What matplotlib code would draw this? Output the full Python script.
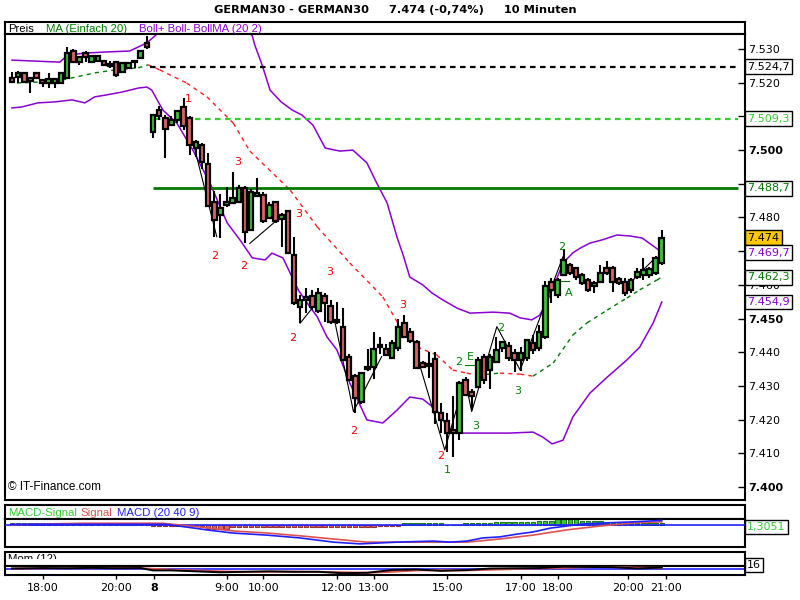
import matplotlib
matplotlib.use("Agg")
import matplotlib.pyplot as plt
import matplotlib.transforms as mtransforms
from matplotlib.patches import Rectangle

plt.rcParams['font.family'] = ['DejaVu Sans']
plt.rcParams['font.size'] = 8

# 10 minute candles, GERMAN30 (day 7 evening + day 8)
opens = [7521.5, 7521.6, 7522.8, 7520.5, 7523.0, 7520.8, 7520.0, 7520.0, 7519.8, 7521.3,
         7529.5, 7526.2, 7528.7, 7526.2, 7526.5, 7526.5, 7525.5, 7526.2, 7523.3, 7524.3,
         7526.0, 7527.2, 7531.7,
         7505.4, 7512.0, 7509.5, 7507.5, 7508.9, 7512.8, 7509.5, 7500.5, 7501.5, 7495.9,
         7484.7, 7480.7, 7483.7, 7484.4, 7484.7, 7488.8, 7476.3, 7486.4, 7486.7, 7479.8,
         7484.5, 7479.5, 7481.8, 7468.9, 7453.5, 7456.5, 7456.7, 7452.3, 7456.7, 7453.7,
         7449.5, 7447.6, 7438.7, 7432.8, 7425.3, 7435.0, 7435.5, 7441.5, 7440.9, 7438.2,
         7441.2, 7448.8, 7446.1, 7442.9, 7436.8, 7436.0, 7437.9, 7421.9, 7419.7, 7417.0,
         7415.9, 7431.8, 7428.3, 7429.8, 7438.7, 7434.7, 7437.2, 7441.2, 7441.7, 7439.7,
         7437.7, 7438.2, 7442.7, 7441.2, 7444.5, 7460.9, 7457.0, 7462.9, 7465.9, 7464.9,
         7460.5, 7461.4, 7459.7, 7460.9, 7464.9, 7464.9, 7461.7, 7460.9, 7458.5, 7462.4,
         7462.9, 7463.0, 7463.4, 7466.4]
highs = [7523.3, 7523.5, 7523.0, 7521.5, 7523.2, 7521.0, 7522.9, 7521.5, 7523.0, 7530.5,
         7530.0, 7527.8, 7529.5, 7528.3, 7528.3, 7526.8, 7526.5, 7526.5, 7526.2, 7526.0,
         7526.8, 7529.7, 7533.9,
         7510.5, 7513.0, 7510.5, 7510.0, 7512.0, 7515.6, 7510.0, 7503.0, 7502.0, 7499.0,
         7488.0, 7487.0, 7489.0, 7493.6, 7489.5, 7489.2, 7488.5, 7491.7, 7487.5, 7484.5,
         7485.0, 7481.2, 7482.3, 7474.3, 7457.0, 7459.0, 7458.5, 7459.0, 7457.5, 7455.5,
         7455.0, 7453.0, 7439.5, 7433.5, 7434.0, 7441.0, 7446.0, 7444.5, 7442.5, 7443.5,
         7450.0, 7451.0, 7447.2, 7443.5, 7437.5, 7440.2, 7440.2, 7425.0, 7422.0, 7427.0,
         7431.5, 7432.5, 7429.0, 7438.5, 7439.5, 7439.5, 7444.5, 7443.3, 7443.0, 7441.0,
         7441.5, 7444.0, 7445.0, 7448.0, 7461.0, 7462.0, 7462.0, 7470.7, 7466.5, 7465.3,
         7463.5, 7462.0, 7461.0, 7466.0, 7467.0, 7465.5, 7462.2, 7462.0, 7462.0, 7465.0,
         7468.0, 7465.4, 7468.5, 7476.3]
lows = [7519.8, 7520.0, 7519.8, 7517.0, 7521.0, 7518.6, 7518.4, 7518.4, 7519.5, 7521.0,
        7526.0, 7525.3, 7526.2, 7526.0, 7526.2, 7525.3, 7524.3, 7521.8, 7523.0, 7524.0,
        7524.5, 7527.0, 7530.0,
        7503.5, 7509.0, 7497.6, 7507.0, 7508.0, 7506.0, 7498.5, 7498.0, 7494.5, 7483.0,
        7474.3, 7474.0, 7483.0, 7484.0, 7484.5, 7472.3, 7476.0, 7486.0, 7478.5, 7479.5,
        7478.5, 7471.3, 7469.2, 7454.0, 7448.7, 7451.5, 7452.5, 7451.5, 7449.0, 7448.5,
        7448.5, 7437.3, 7431.5, 7422.0, 7424.5, 7434.5, 7432.0, 7439.5, 7438.8, 7438.0,
        7440.5, 7444.3, 7442.8, 7435.0, 7435.3, 7432.4, 7418.8, 7416.0, 7410.5, 7409.0,
        7414.0, 7427.0, 7423.0, 7429.5, 7430.5, 7429.0, 7436.8, 7440.0, 7437.5, 7434.0,
        7434.5, 7437.5, 7439.5, 7440.5, 7443.8, 7454.6, 7456.0, 7462.5, 7463.0, 7461.5,
        7460.0, 7457.8, 7457.5, 7460.5, 7463.0, 7458.0, 7460.0, 7456.8, 7457.5, 7461.8,
        7461.5, 7462.0, 7463.0, 7466.0]
closes = [7520.3, 7522.8, 7520.3, 7521.5, 7521.3, 7520.0, 7521.0, 7521.0, 7522.8, 7528.7,
          7526.2, 7527.5, 7527.5, 7528.0, 7528.0, 7525.3, 7525.0, 7522.3, 7525.8, 7525.8,
          7526.2, 7529.5, 7530.5,
          7510.4, 7510.0, 7506.3, 7509.0, 7511.6, 7507.2, 7501.5, 7502.5, 7496.6, 7483.4,
          7479.3, 7482.8, 7484.7, 7485.8, 7488.8, 7475.8, 7487.7, 7487.4, 7478.8, 7483.7,
          7478.8, 7480.7, 7469.4, 7454.5, 7455.5, 7455.5, 7453.4, 7457.7, 7454.5, 7449.0,
          7448.9, 7437.7, 7431.8, 7426.4, 7433.8, 7435.5, 7440.9, 7442.0, 7439.2, 7442.7,
          7447.6, 7444.6, 7443.2, 7435.3, 7435.6, 7436.2, 7422.4, 7419.9, 7415.9, 7416.0,
          7430.8, 7427.3, 7426.9, 7437.7, 7431.8, 7438.7, 7440.7, 7442.9, 7438.2, 7437.7,
          7439.9, 7443.6, 7440.7, 7446.1, 7459.8, 7458.5, 7461.4, 7467.4, 7463.4, 7462.4,
          7462.9, 7458.5, 7460.6, 7463.6, 7463.4, 7460.9, 7460.5, 7457.5, 7461.4, 7463.9,
          7464.4, 7464.6, 7467.9, 7474.0]

# Bollinger (20, 2) and MA 20 (candle index, price)
upper_idx = [0, 7.8, 9.1, 12.1, 15.2, 19.2, 22.0, 23.7, 25.0, 29.0, 32.3, 35.6, 38.0, 39.2,
             39.6, 40.8, 42.1, 43.9, 45.7, 47.3, 49.1, 51.1, 53.5, 55.6, 57.9, 59.5, 61.2,
             62.8, 63.8, 64.9, 67.0, 68.5, 70.3, 72.6, 74.7, 78.5, 81.2, 82.9, 84.8, 86.1,
             87.8, 89.9, 91.5, 92.7, 94.3, 96.2, 98.7, 100.8, 102.8, 104.4, 106.0]
upper_val = [7526.7, 7526.1, 7528.2, 7528.8, 7529.1, 7529.4, 7531.8, 7534.5, 7537.1, 7540.1,
             7541.0, 7538.6, 7536.2, 7533.9, 7531.2, 7525.3, 7517.8, 7514.3, 7511.9, 7510.4,
             7507.4, 7500.6, 7499.7, 7500.0, 7496.2, 7490.2, 7484.3, 7474.2, 7468.9, 7462.3,
             7460.0, 7457.6, 7455.5, 7453.1, 7451.6, 7451.9, 7451.6, 7450.2, 7449.6, 7451.0,
             7457.0, 7466.5, 7469.5, 7470.9, 7472.4, 7473.3, 7474.8, 7474.5, 7473.9, 7471.8,
             7469.7]
lower_idx = [0, 1.6, 4.2, 7.0, 9.8, 11.9, 13.5, 15.2, 17.9, 20.6, 22.0, 22.8, 24.6, 26.9,
             29.5, 32.3, 35.1, 37.2, 39.2, 41.3, 42.4, 44.2, 46.7, 47.8, 49.8, 51.4, 53.0,
             55.1, 57.9, 60.5, 62.8, 64.9, 67.0, 69.3, 71.0, 73.1, 76.8, 81.2, 85.0, 86.6,
             88.1, 89.9, 91.5, 94.3, 97.1, 100.3, 102.4, 104.6, 106.0]
lower_val = [7512.5, 7512.8, 7514.0, 7514.3, 7514.9, 7514.0, 7515.8, 7516.3, 7517.2, 7518.4,
             7518.7, 7517.8, 7511.9, 7508.0, 7500.0, 7490.2, 7478.4, 7473.3, 7468.0, 7467.4,
             7469.4, 7468.0, 7458.5, 7455.5, 7450.5, 7444.5, 7440.7, 7430.9, 7419.9, 7419.0,
             7422.8, 7426.7, 7426.1, 7422.8, 7417.8, 7416.0, 7416.0, 7416.0, 7416.3, 7414.8,
             7412.8, 7413.9, 7420.8, 7427.9, 7432.6, 7437.7, 7441.5, 7448.7, 7454.9]
ma_idx = [0.8, 4.6, 5.9, 8.2, 13.5, 16.8, 20.6, 22.2, 24.1, 28.5, 31.8, 36.1, 38.8, 45.4,
          49.8, 55.1, 60.5, 63.3, 64.9, 66.1, 69.3, 71.9, 74.2, 75.9, 79.6, 82.9, 85.0, 88.3,
          91.5, 93.8, 97.1, 100.3, 102.4, 105.2, 106.0]
ma_val = [7519.9, 7520.2, 7520.1, 7520.8, 7522.9, 7523.8, 7524.4, 7525.3, 7523.8, 7519.9,
          7515.8, 7508.0, 7499.7, 7488.1, 7477.2, 7466.5, 7456.4, 7447.5, 7445.7, 7441.5,
          7439.2, 7434.7, 7433.8, 7433.2, 7433.8, 7433.5, 7432.9, 7436.8, 7445.1, 7448.7,
          7452.5, 7456.1, 7458.5, 7461.4, 7462.3]

# horizontal levels
level_val = [7524.7, 7509.3, 7488.7]
level_start = [22.5, 23.3, 23.0]

# wave count labels
wave_text = ['1', '3', '2', '2', '3', '3', '2', '3', '2', '2', '1', '3', '2', 'E', '2', '3', '2', 'A']
wave_idx = [28.7, 36.9, 33.0, 37.8, 46.7, 51.9, 45.8, 63.8, 55.8, 70.0, 71.0, 75.7, 72.9, 74.7,
            79.8, 82.5, 89.7, 90.9]
wave_price = [7515.2, 7496.5, 7468.6, 7465.6, 7481.0, 7463.8, 7444.2, 7454.0, 7416.6, 7409.2,
              7405.0, 7418.0, 7437.1, 7438.6, 7447.2, 7428.5, 7471.2, 7457.6]
wave_red = [True, True, True, True, True, True, True, True, True, True,
            False, False, False, False, False, False, False, False]

# thin zigzag lines
zigzags = [
    [(28.5, 7509.9), (33.4, 7474.3)],
    [(38.8, 7472.3), (42.9, 7478.7)],
    [(47.0, 7448.6), (50.0, 7455.4)],
    [(52.7, 7448.8), (55.7, 7422.4), (60.3, 7438.7)],
    [(66.6, 7435.7), (70.6, 7411.0), (73.9, 7431.8), (75.0, 7422.4), (79.1, 7447.6),
     (82.9, 7434.7), (89.9, 7468.4)],
    [(101.3, 7461.4), (104.6, 7467.4)],
]
# short marker lines next to E and A
mark_lines = [[(73.9, 7436.2), (76.0, 7436.2)], [(88.9, 7461.1), (90.9, 7461.1)]]

# MACD (20 40 9)
macd_idx = [0, 25, 28.5, 31.8, 36, 41.6, 47, 52.4, 56.8, 62.8, 68.7, 71.5, 74.2, 76.8, 79.6,
            82.4, 85, 87.8, 90.5, 93.1, 97, 101.3, 106]
macd_val = [0.2, 0.2, -0.6, -1.4, -2.3, -2.9, -3.7, -4.9, -5.4, -4.9, -4.6, -4.9, -4.6, -3.7,
            -3.4, -2.6, -2.0, -0.9, -0.3, 0.3, 0.6, 0.9, 1.31]
signal_idx = [0, 11.6, 24.6, 30.7, 36, 41.6, 47, 52.4, 57.9, 62.8, 74.2, 79.6, 85, 90.5, 95.9,
              101.3, 106]
signal_val = [0.1, 0.5, 0.5, -0.6, -1.7, -2.3, -3.1, -4.0, -4.9, -4.9, -4.9, -4.0, -2.9, -1.4,
              -0.3, 0.6, 0.9]
macd_hist = [0.5, 0.5, 0.5, 0.5, 0.5, 0.5, 0.5, 0.5, 0.5, 0, 0, 0, 0, 0, 0, 0,
             0.5, 0.5, 0.5, 0.5, 0.5, 0.5, 0.5,
             -0.2, -0.2, -0.2, -0.2, -0.4, -0.4, -0.4, -0.4, -0.4, -1.1, -1.1, -1.1, -1.1,
             -0.65, -0.65, -0.65, -0.65, -0.65, -0.65, -0.65, -0.65, -0.65, -0.65, -0.65, -0.65,
             -0.65, -0.65, -0.65, -0.65, -0.65, -0.65, -0.65, -0.65, -0.65, -0.65, -0.65, -0.65,
             -0.3, -0.3, -0.3, -0.3,
             0.6, 0.6, 0.6, 0.6, 0.6, 0.6, 0.6, 0, 0, 0,
             0.6, 0.6, 0.6, 0.6, 0.6, 0.9, 0.9, 0.9, 0.9, 0.9, 0.9, 0.9,
             1.1, 1.1, 1.1, 1.6, 1.6, 1.6, 1.6, 1.1, 1.1, 1.1, 1.1,
             0.6, 0.6, 0.6, 0.6, 0.6, 0.6, 0.6, 0.6, 0.6, 0.6]

# Momentum (12)
mom_idx = [0, 5, 9, 13, 17, 21, 23, 26, 30, 34, 38, 42, 46, 50, 54, 58, 62, 66, 70, 74, 78,
           82, 86, 90, 94, 98, 102, 106]
mom_val = [5, 10, 8, 12, 8, 10, -15, -15, -25, -35, -30, -25, -30, -30, -45, -40, -10, -5,
           -20, -12, 5, 8, 10, 25, 22, 20, 5, 16]
mom_sig = [4, 6, 8, 9, 10, 9, 2, -8, -15, -25, -30, -30, -28, -30, -35, -40, -30, -15, -12,
           -15, -8, 0, 6, 12, 20, 22, 14, 12]

time_pos = [5, 17, 23.2, 35, 41, 53, 59, 71, 83, 89, 100.5, 106.7]
time_lab = ['18:00', '20:00', '8', '9:00', '10:00', '12:00', '13:00', '15:00', '17:00',
            '18:00', '20:00', '21:00']

GREEN = '#3dc43d'
RED = '#d96565'
PURPLE = '#8a00d4'
DKGREEN = '#007a00'
LTGREEN = '#33cc33'
LEGFONT = ['Liberation Sans', 'DejaVu Sans']
XLIM = (-1.14, 119.58)

fig = plt.figure(figsize=(8, 6), dpi=100)
renderer = fig.canvas.get_renderer()


def panel(x0, y0, x1, y1):
    # pixel box -> figure axes
    ax = fig.add_axes([x0 / 800, 1 - y1 / 600, (x1 - x0) / 800, (y1 - y0) / 600])
    for s in ax.spines.values():
        s.set_linewidth(1.5)
    return ax


def strip(x0, y0, x1, y1):
    ax = panel(x0, y0, x1, y1)
    ax.set_xticks([])
    ax.set_yticks([])
    return ax


def legend_row(items, x_px, y_px, gap_px, size):
    # lay the coloured legend words out one after another
    for txt, col in items:
        t = fig.text(x_px / 800, 1 - y_px / 600, txt, color=col, fontsize=size,
                     family=LEGFONT, ha='left', va='center', zorder=20)
        x_px += t.get_window_extent(renderer).width + gap_px


fig.text(0.494, 1 - 10 / 600, "GERMAN30 - GERMAN30     7.474 (-0,74%)     10 Minuten",
         ha='center', va='center', fontsize=8.2, fontweight='bold')

# ---- main price panel ----
leg = strip(5, 22, 745, 34)
legend_row([("Preis", 'black'), ("MA (Einfach 20)", DKGREEN),
            ("Boll+ Boll- BollMA (20 2)", PURPLE)], 8, 28.5, 12, 8.2)

ax = panel(5, 34, 745, 500)
ax.set_xlim(*XLIM)
ax.set_ylim(7396.14, 7534.45)
ax.set_xticks([])

ax.plot(upper_idx, upper_val, color=PURPLE, lw=1.1, zorder=2)
ax.plot(lower_idx, lower_val, color=PURPLE, lw=1.1, zorder=2)
for k in range(len(ma_idx) - 1):
    col = DKGREEN if ma_val[k + 1] >= ma_val[k] else '#ff2020'
    ax.plot(ma_idx[k:k + 2], ma_val[k:k + 2], color=col, lw=1.0, ls=(0, (3, 3)), zorder=2)

ax.hlines(level_val[0], level_start[0], XLIM[1] - 1.1, color='black', lw=1.6, ls=(0, (2.5, 2)), zorder=2)
ax.hlines(level_val[1], level_start[1], XLIM[1] - 1.1, color=LTGREEN, lw=1.6, ls=(0, (2.5, 2)), zorder=2)
ax.hlines(level_val[2], level_start[2], XLIM[1] - 1.1, color=DKGREEN, lw=2.0, zorder=2)

for seg in zigzags + mark_lines:
    xs = [p[0] for p in seg]
    ys = [p[1] for p in seg]
    col = 'black' if seg in zigzags else DKGREEN
    ax.plot(xs, ys, color=col, lw=0.8, zorder=3)

for i, (o, h, l, c) in enumerate(zip(opens, highs, lows, closes)):
    col = GREEN if c >= o else RED
    ax.vlines(i, l, h, color='black', lw=1.5, zorder=4)
    ax.add_patch(Rectangle((i - 0.37, min(o, c)), 0.74, max(abs(c - o), 0.4),
                           fc=col, ec='black', lw=1.6, zorder=5))

for t, xi, yp, isred in zip(wave_text, wave_idx, wave_price, wave_red):
    ax.text(xi, yp, t, color='#ff0000' if isred else '#008000', ha='center', va='center',
            fontsize=8, zorder=6)

ax.text(3 / 740, 0.015, "\u00a9 IT-Finance.com", transform=ax.transAxes, fontsize=8.5,
        va='bottom', ha='left', family=LEGFONT)

# price scale; 7.510 / 7.490 / 7.470 sit under the value boxes
yt = list(range(7400, 7531, 10))
hidden = [7510, 7490, 7470]
ax.yaxis.tick_right()
ax.set_yticks(yt)
ax.set_yticklabels(['' if v in hidden else f"{v:,}".replace(",", ".") for v in yt])
for lab, v in zip(ax.get_yticklabels(), yt):
    if v % 50 == 0:
        lab.set_fontweight('bold')
ax.tick_params(axis='y', direction='in', length=5, width=1, pad=2, labelsize=8)

trans = mtransforms.blended_transform_factory(ax.transAxes, ax.transData)
boxes = [("7.524,7", 7524.7, 'black', 'white'),
         ("7.509,3", 7509.3, LTGREEN, 'white'),
         ("7.488,7", 7488.7, DKGREEN, 'white'),
         ("7.474", 7474.0, 'black', '#ffc800'),
         ("7.469,7", 7469.5, PURPLE, 'white'),
         ("7.462,3", 7462.3, DKGREEN, 'white'),
         ("7.454,9", 7454.9, PURPLE, 'white')]
for txt, v, tc, fc in boxes:
    ax.text(1.003, v, txt, transform=trans, color=tc, fontsize=8, ha='left', va='center',
            clip_on=False, zorder=10,
            bbox=dict(boxstyle='square,pad=0.22', fc=fc, ec='black', lw=1))

# ---- MACD panel ----
mleg = strip(5, 505, 745, 519)
legend_row([("MACD-Signal", LTGREEN), ("Signal", '#e05050'), ("MACD (20 40 9)", '#2020ff')],
           8, 512.5, 4, 8.2)

axm = panel(5, 519, 745, 547)
axm.set_xlim(*XLIM)
axm.set_ylim(-6.29, 1.71)
axm.set_xticks([])
axm.set_yticks([])
hcols = [GREEN if v >= 0 else RED for v in macd_hist]
ecols = ['#1d7a1d' if v >= 0 else '#9a3030' for v in macd_hist]
axm.bar(range(len(macd_hist)), macd_hist, width=0.72, color=hcols, edgecolor=ecols, lw=0.8,
        zorder=2)
axm.axhline(0, color='#2020ff', lw=1.2, zorder=3)
axm.plot(signal_idx, signal_val, color='#e05050', lw=1.2, zorder=4)
axm.plot(macd_idx, macd_val, color='#2020ff', lw=1.2, zorder=5)
fig.text(747 / 800, 1 - 527 / 600, "1,3051", color=LTGREEN, fontsize=8, ha='left',
         va='center', bbox=dict(boxstyle='square,pad=0.22', fc='white', ec='black', lw=1))

# ---- Momentum panel (its legend is cut off half way, as in the source) ----
pleg = strip(5, 552, 745, 566)
clip_ax = fig.add_axes([5 / 800, 1 - 559 / 600, 740 / 800, 6 / 600])
clip_ax.axis('off')
clip_ax.text(3 / 740, 0.75, "Mom (12)", va='top', fontsize=8.2, clip_on=True, family=LEGFONT)

axp = panel(5, 566, 745, 575)
axp.set_xlim(*XLIM)
axp.set_ylim(-64, 32)
axp.set_yticks([])
axp.axhline(0, color='#2020ff', lw=1.2, zorder=2)
axp.plot(mom_idx, mom_sig, color='#e05050', lw=1.4, zorder=3)
axp.plot(mom_idx, mom_val, color='black', lw=1.4, zorder=4)
axp.set_xticks(time_pos)
axp.set_xticklabels(time_lab)
for lab in axp.get_xticklabels():
    if lab.get_text() == '8':
        lab.set_fontweight('bold')
axp.tick_params(axis='x', direction='out', length=3, width=1, pad=3, labelsize=8)
fig.text(747 / 800, 1 - 565 / 600, "16", fontsize=8, ha='left', va='center',
         bbox=dict(boxstyle='square,pad=0.22', fc='white', ec='black', lw=1))

fig.savefig("out.png", dpi=100)
